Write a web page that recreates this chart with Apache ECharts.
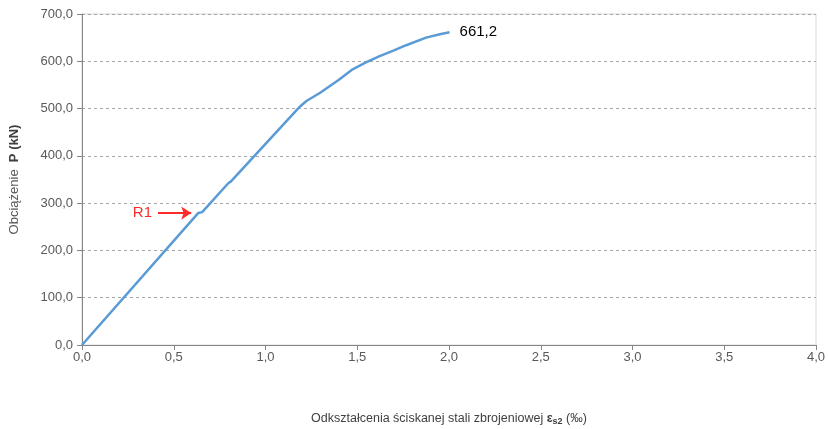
<!DOCTYPE html>
<html>
<head>
<meta charset="utf-8">
<script src="https://cdn.jsdelivr.net/npm/echarts@6/dist/echarts.min.js"></script>
<style>
  html, body { margin: 0; padding: 0; background: #fff; }
  #chart-container { width: 828px; height: 429px; }
</style>
</head>
<body>
<div id="chart-container"></div>
<script>
// strain eps_s2 (permille) vs load P (kN)
var strain = [0, 0.633, 0.655, 0.797, 0.812, 1.177, 1.19, 1.223, 1.30, 1.40, 1.475, 1.55, 1.622, 1.70, 1.767, 1.875, 1.95, 2.003];
var load   = [0, 279, 281, 342, 346, 500, 505, 516, 534, 561, 583, 598, 611, 623, 634, 650, 657, 661.2];
var maxLabel = '661,2';
// R1 arrow from / to (data coords)
var r1Arrow = [[0.414, 279], [0.595, 279]];

var points = [];
for (var i = 0; i < strain.length; i++) {
    points.push([strain[i], load[i]]);
}

function comma(v) {
    return v.toFixed(1).replace('.', ',');
}

var option = {
    animation: false,
    grid: {
        left: 82,
        right: 12,
        top: 14,
        bottom: 84,
        outerBoundsMode: 'none',
        containLabel: false,
        show: true,
        borderColor: '#d9d9d9',
        borderWidth: 1
    },
    xAxis: {
        type: 'value',
        min: 0,
        max: 4,
        interval: 0.5,
        name: '{t|Odkształcenia ściskanej stali zbrojeniowej }{b|ε}{s|s2}{t| (‰)}',
        nameLocation: 'middle',
        nameGap: 66,
        nameTextStyle: {
            rich: {
                t: { fontSize: 12.5, color: '#404040', fontFamily: 'Liberation Sans' },
                b: { fontSize: 12.5, color: '#404040', fontWeight: 'bold', fontFamily: 'Liberation Sans' },
                s: { fontSize: 9, color: '#404040', fontWeight: 'bold', fontFamily: 'Liberation Sans', padding: [6, 0, 0, 0] }
            }
        },
        axisLine: { lineStyle: { color: '#868686', width: 1 } },
        axisTick: { show: true, length: 5, lineStyle: { color: '#868686' } },
        axisLabel: {
            color: '#595959',
            fontSize: 13,
            fontFamily: 'Liberation Sans',
            margin: 6,
            formatter: function (v) { return comma(v); }
        },
        splitLine: { show: false }
    },
    yAxis: {
        type: 'value',
        min: 0,
        max: 700,
        interval: 100,
        name: '{t|Obciążenie  }{b|P (kN)}',
        nameLocation: 'middle',
        nameGap: 61,
        nameRotate: 90,
        nameTextStyle: {
            rich: {
                t: { fontSize: 13, color: '#595959', fontFamily: 'Liberation Sans' },
                b: { fontSize: 13, color: '#404040', fontWeight: 'bold', fontFamily: 'Liberation Sans' }
            }
        },
        axisLine: { show: true, lineStyle: { color: '#868686', width: 1 } },
        axisTick: { show: true, length: 5, lineStyle: { color: '#868686' } },
        axisLabel: {
            color: '#595959',
            fontSize: 13,
            fontFamily: 'Liberation Sans',
            margin: 9,
            formatter: function (v) { return comma(v); }
        },
        splitLine: { show: true, lineStyle: { color: '#a6a6a6', type: [3, 3], width: 1 } }
    },
    series: [
        {
            type: 'line',
            data: points,
            showSymbol: false,
            symbol: 'none',
            lineStyle: { color: '#5b9bd5', width: 2.5 },
            endLabel: {
                show: true,
                formatter: maxLabel,
                color: '#000',
                fontSize: 15,
                fontFamily: 'Liberation Sans',
                distance: 10
            },
            markLine: {
                silent: true,
                symbol: ['none', 'arrow'],
                symbolSize: [10, 10],
                lineStyle: { color: '#ff2a2a', width: 2, type: 'solid' },
                label: {
                    show: true,
                    position: 'start',
                    formatter: 'R1',
                    color: '#ff2a2a',
                    fontSize: 15,
                    fontFamily: 'Liberation Sans',
                    distance: 6
                },
                data: [
                    [{ coord: r1Arrow[0] }, { coord: r1Arrow[1] }]
                ]
            }
        }
    ]
};

var myChart = echarts.init(document.getElementById('chart-container'));
myChart.setOption(option);
</script>
</body>
</html>
